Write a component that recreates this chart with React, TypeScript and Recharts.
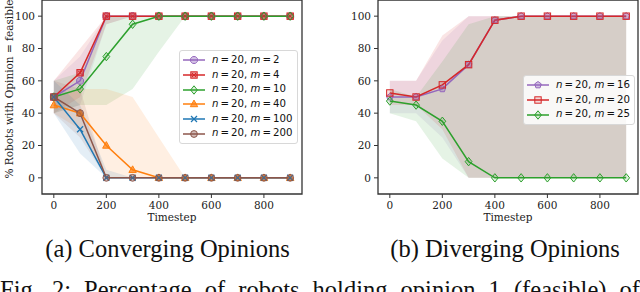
import React from 'react';
import { ComposedChart, Line, Area, XAxis, YAxis, ReferenceArea, Legend } from 'recharts';

// ---------- data ----------
const timesteps = [0, 100, 200, 300, 400, 500, 600, 700, 800, 900];
const xTicks = [0, 200, 400, 600, 800];
const yTicks = [0, 20, 40, 60, 80, 100];

// (a) Converging opinions: means
const convM2 = [50, 60, 100, 100, 100, 100, 100, 100, 100, 100];
const convM4 = [50, 65, 100, 100, 100, 100, 100, 100, 100, 100];
const convM10 = [50, 55, 75, 95, 100, 100, 100, 100, 100, 100];
const convM40 = [45, 40, 20, 5, 0, 0, 0, 0, 0, 0];
const convM100 = [50, 30, 0, 0, 0, 0, 0, 0, 0, 0];
const convM200 = [50, 40, 0, 0, 0, 0, 0, 0, 0, 0];
// (a) spread bands (low / high)
const convM2Lo = [40, 45, 95, 100, 100, 100, 100, 100, 100, 100];
const convM2Hi = [60, 75, 100, 100, 100, 100, 100, 100, 100, 100];
const convM4Lo = [40, 50, 95, 100, 100, 100, 100, 100, 100, 100];
const convM4Hi = [60, 80, 100, 100, 100, 100, 100, 100, 100, 100];
const convM10Lo = [40, 45, 45, 55, 78, 100, 100, 100, 100, 100];
const convM10Hi = [60, 65, 100, 100, 100, 100, 100, 100, 100, 100];
const convM40Lo = [40, 30, 0, 0, 0, 0, 0, 0, 0, 0];
const convM40Hi = [50, 55, 55, 50, 25, 0, 0, 0, 0, 0];
const convM100Lo = [40, 15, 0, 0, 0, 0, 0, 0, 0, 0];
const convM100Hi = [60, 45, 5, 0, 0, 0, 0, 0, 0, 0];
const convM200Lo = [40, 25, 0, 0, 0, 0, 0, 0, 0, 0];
const convM200Hi = [60, 55, 0, 0, 0, 0, 0, 0, 0, 0];

// (b) Diverging opinions: means
const divM16 = [50, 50, 55, 70, 97.5, 100, 100, 100, 100, 100];
const divM20 = [52.5, 50, 57.5, 70, 97.5, 100, 100, 100, 100, 100];
const divM25 = [47.5, 45, 35, 10, 0, 0, 0, 0, 0, 0];
// (b) spread bands
const divM16Lo = [40, 40, 25, 0, 0, 0, 0, 0, 0, 0];
const divM16Hi = [60, 60, 85, 100, 100, 100, 100, 100, 100, 100];
const divM20Lo = [45, 45, 30, 0, 0, 0, 0, 0, 0, 0];
const divM20Hi = [60, 60, 88, 100, 100, 100, 100, 100, 100, 100];
const divM25Lo = [40, 35, 12, 0, 0, 0, 0, 0, 0, 0];
const divM25Hi = [55, 50, 72, 95, 100, 100, 100, 100, 100, 100];

const nLabel = '20';
const captionA = '(a) Converging Opinions';
const captionB = '(b) Diverging Opinions';
const figText = 'Fig. 2: Percentage of robots holding opinion 1 (feasible) of';
const yLabel = '% Robots with Opinion = feasible';
const xLabel = 'Timestep';

type Shape = 'octagon' | 'squareX' | 'diamond' | 'triangle' | 'x' | 'circle' | 'pentagon' | 'square';

interface Series {
  key: string;
  m: string;
  color: string;
  shape: Shape;
  values: number[];
  lo: number[];
  hi: number[];
}

const convSeries: Series[] = [
  { key: 'm2', m: '2', color: '#9467bd', shape: 'octagon', values: convM2, lo: convM2Lo, hi: convM2Hi },
  { key: 'm4', m: '4', color: '#d62728', shape: 'squareX', values: convM4, lo: convM4Lo, hi: convM4Hi },
  { key: 'm10', m: '10', color: '#2ca02c', shape: 'diamond', values: convM10, lo: convM10Lo, hi: convM10Hi },
  { key: 'm40', m: '40', color: '#ff7f0e', shape: 'triangle', values: convM40, lo: convM40Lo, hi: convM40Hi },
  { key: 'm100', m: '100', color: '#1f77b4', shape: 'x', values: convM100, lo: convM100Lo, hi: convM100Hi },
  { key: 'm200', m: '200', color: '#8c564b', shape: 'circle', values: convM200, lo: convM200Lo, hi: convM200Hi },
];

const divSeries: Series[] = [
  { key: 'm16', m: '16', color: '#9467bd', shape: 'pentagon', values: divM16, lo: divM16Lo, hi: divM16Hi },
  { key: 'm20', m: '20', color: '#d62728', shape: 'square', values: divM20, lo: divM20Lo, hi: divM20Hi },
  { key: 'm25', m: '25', color: '#2ca02c', shape: 'diamond', values: divM25, lo: divM25Lo, hi: divM25Hi },
];

function buildData(series: Series[]) {
  return timesteps.map((t, i) => {
    const row: Record<string, any> = { t };
    series.forEach((s) => {
      row[s.key] = s.values[i];
      row[s.key + 'Band'] = [s.lo[i], s.hi[i]];
    });
    return row;
  });
}

const convData = buildData(convSeries);
const divData = buildData(divSeries);

// ---------- markers ----------
function poly(cx: number, cy: number, r: number, n: number, rot: number) {
  const pts: string[] = [];
  for (let k = 0; k < n; k++) {
    const a = rot + (k * 2 * Math.PI) / n;
    pts.push(`${cx + r * Math.cos(a)},${cy + r * Math.sin(a)}`);
  }
  return pts.join(' ');
}

function Marker({ shape, cx, cy, color }: { shape: Shape; cx: number; cy: number; color: string }) {
  const common = { stroke: color, strokeWidth: 1, fill: color, fillOpacity: 0.4 };
  switch (shape) {
    case 'circle':
      return <circle cx={cx} cy={cy} r={3.4} {...common} />;
    case 'octagon':
      return <polygon points={poly(cx, cy, 3.7, 8, Math.PI / 8)} {...common} />;
    case 'pentagon':
      return <polygon points={poly(cx, cy, 3.5, 5, -Math.PI / 2)} {...common} />;
    case 'square':
      return <rect x={cx - 3.2} y={cy - 3.2} width={6.4} height={6.4} {...common} fillOpacity={0.15} />;
    case 'squareX':
      return (
        <g>
          <rect x={cx - 3.2} y={cy - 3.2} width={6.4} height={6.4} {...common} fillOpacity={0.5} />
          <line x1={cx - 2} y1={cy - 2} x2={cx + 2} y2={cy + 2} stroke={color} strokeWidth={1} />
          <line x1={cx - 2} y1={cy + 2} x2={cx + 2} y2={cy - 2} stroke={color} strokeWidth={1} />
        </g>
      );
    case 'diamond':
      return (
        <polygon
          points={`${cx},${cy - 4.2} ${cx + 3.4},${cy} ${cx},${cy + 4.2} ${cx - 3.4},${cy}`}
          {...common}
          fillOpacity={0.15}
        />
      );
    case 'triangle':
      return (
        <polygon points={`${cx},${cy - 3.9} ${cx + 3.7},${cy + 2.7} ${cx - 3.7},${cy + 2.7}`} {...common} fillOpacity={0.7} />
      );
    case 'x':
      return (
        <g>
          <line x1={cx - 3} y1={cy - 3} x2={cx + 3} y2={cy + 3} stroke={color} strokeWidth={1.3} />
          <line x1={cx - 3} y1={cy + 3} x2={cx + 3} y2={cy - 3} stroke={color} strokeWidth={1.3} />
        </g>
      );
  }
  return null;
}

function makeDot(shape: Shape, color: string) {
  return (props: any) => {
    const { cx, cy, index } = props;
    if (cx == null || cy == null) return <g key={index} />;
    return (
      <g key={`d-${index}`}>
        <Marker shape={shape} cx={cx} cy={cy} color={color} />
      </g>
    );
  };
}

// ---------- legend ----------
const TS = '\u2009';
function LegendBox({ series }: { series: Series[] }) {
  return (
    <div
      style={{
        background: 'rgba(255,255,255,0.85)',
        border: '1px solid #d8d8d8',
        borderRadius: 3,
        padding: '2px 4px 2px 3px',
        fontFamily: 'DejaVu Sans',
        fontSize: 10.2,
        color: '#111',
        lineHeight: '14.7px',
        whiteSpace: 'nowrap',
      }}
    >
      {series.map((s) => (
        <div key={s.key} style={{ display: 'flex', alignItems: 'center', height: 14.7 }}>
          <svg width={22} height={12} style={{ marginRight: 7 }}>
            <line x1={0} y1={6} x2={22} y2={6} stroke={s.color} strokeWidth={1.5} />
            <Marker shape={s.shape} cx={11} cy={6} color={s.color} />
          </svg>
          <span>
            <i>n</i>
            {`${TS}=${TS}${nLabel}, `}
            <i>m</i>
            {`${TS}=${TS}${s.m}`}
          </span>
        </div>
      ))}
    </div>
  );
}

const tickStyle = { fontFamily: 'DejaVu Serif', fontSize: 10.5, fill: '#222' };
const frameColor = '#333';

function Panel({
  data,
  series,
  width,
  yAxisWidth,
  rightMargin,
  legendPos,
}: {
  data: any[];
  series: Series[];
  width: number;
  yAxisWidth: number;
  rightMargin: number;
  legendPos: { left: number; top: number };
}) {
  return (
    <ComposedChart width={width} height={232} data={data} margin={{ top: 0, right: rightMargin, bottom: 0, left: 0 }}>
      <XAxis
        dataKey="t"
        type="number"
        domain={[-45, 945]}
        ticks={xTicks}
        allowDataOverflow
        height={38}
        axisLine={false}
        tickLine={{ stroke: frameColor, strokeWidth: 1 }}
        tickSize={4}
        tickMargin={4}
        tick={tickStyle}
      />
      <YAxis
        type="number"
        domain={[-10, 110]}
        ticks={yTicks}
        allowDataOverflow
        width={yAxisWidth}
        axisLine={false}
        tickLine={{ stroke: frameColor, strokeWidth: 1 }}
        tickSize={4}
        tickMargin={3}
        tick={tickStyle}
      />
      {series.map((s) => (
        <Area
          key={s.key + 'Band'}
          dataKey={s.key + 'Band'}
          type="linear"
          stroke="none"
          fill={s.color}
          fillOpacity={0.12}
          isAnimationActive={false}
          activeDot={false}
          legendType="none"
        />
      ))}
      {series.map((s) => (
        <Line
          key={s.key}
          dataKey={s.key}
          type="linear"
          stroke={s.color}
          strokeWidth={1.5}
          dot={makeDot(s.shape, s.color)}
          activeDot={false}
          isAnimationActive={false}
        />
      ))}
      <ReferenceArea
        x1={-45}
        x2={945}
        y1={-10}
        y2={110}
        fill="none"
        fillOpacity={0}
        stroke={frameColor}
        strokeWidth={1.3}
        ifOverflow="visible"
      />
      <Legend
        layout="vertical"
        align="center"
        verticalAlign="middle"
        wrapperStyle={{ left: legendPos.left, top: legendPos.top, width: 'auto' }}
        content={() => <LegendBox series={series} />}
      />
    </ComposedChart>
  );
}

export default function App() {
  return (
    <div
      style={{
        position: 'absolute',
        left: 0,
        top: 0,
        width: 640,
        height: 292,
        overflow: 'hidden',
        background: '#fff',
      }}
    >
      <div style={{ position: 'absolute', left: 0, top: 0 }}>
        <Panel
          data={convData}
          series={convSeries}
          width={310}
          yAxisWidth={42}
          rightMargin={8}
          legendPos={{ left: 179, top: 50 }}
        />
      </div>
      <div style={{ position: 'absolute', left: 340, top: 0 }}>
        <Panel
          data={divData}
          series={divSeries}
          width={300}
          yAxisWidth={38}
          rightMargin={2}
          legendPos={{ left: 183, top: 75 }}
        />
      </div>
      <svg
        width={640}
        height={292}
        style={{ position: 'absolute', left: 0, top: 0, pointerEvents: 'none' }}
      >
        <text
          transform="rotate(-90)"
          x={-89}
          y={12.5}
          textAnchor="middle"
          fontFamily="DejaVu Serif"
          fontSize={10.5}
          fill="#222"
        >
          {yLabel}
        </text>
        <text x={172} y={221} textAnchor="middle" fontFamily="DejaVu Serif" fontSize={10.5} fill="#222">
          {xLabel}
        </text>
        <text x={508} y={221} textAnchor="middle" fontFamily="DejaVu Serif" fontSize={10.5} fill="#222">
          {xLabel}
        </text>
        <text x={167.5} y={257} textAnchor="middle" fontFamily="Liberation Serif" fontSize={24.5} fill="#111">
          {captionA}
        </text>
        <text x={505} y={257} textAnchor="middle" fontFamily="Liberation Serif" fontSize={24.5} fill="#111">
          {captionB}
        </text>
      </svg>
      <div
        style={{
          position: 'absolute',
          left: 0,
          top: 276,
          width: 640,
          fontFamily: 'Liberation Serif',
          fontSize: 24.5,
          lineHeight: '27px',
          color: '#111',
          textAlign: 'justify',
          textAlignLast: 'justify',
        }}
      >
        {figText}
      </div>
    </div>
  );
}
